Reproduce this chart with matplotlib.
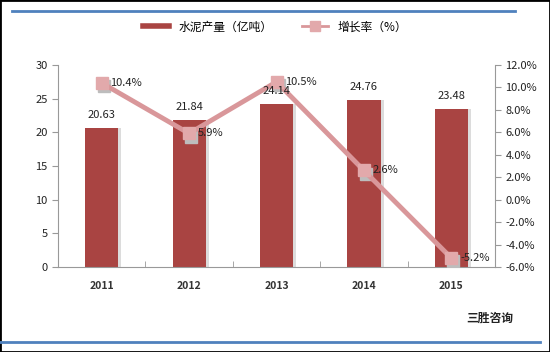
import matplotlib.pyplot as plt
from matplotlib.lines import Line2D
from matplotlib.patches import Rectangle
import numpy as np

plt.rcParams['font.family'] = ['Noto Sans CJK SC', 'DejaVu Sans']

years = ["2011", "2012", "2013", "2014", "2015"]
output = [20.63, 21.84, 24.14, 24.76, 23.48]
growth = [10.4, 5.9, 10.5, 2.6, -5.2]

bar_color = "#A94442"
line_color = "#D9979A"
marker_color = "#E2A9AB"

fig = plt.figure(figsize=(5.5, 3.52), dpi=100)
ax = fig.add_axes([0.1055, 0.2415, 0.7945, 0.5738])
x = np.arange(len(years))

# shadow then bars
ax.bar(x + 0.035, output, width=0.38, color="#dcdcdc", zorder=1)
ax.bar(x, output, width=0.38, color=bar_color, zorder=2)

ax.set_xlim(-0.5, len(years) - 0.5)
ax.set_ylim(0, 30)
ax.set_yticks(range(0, 31, 5))
ax.set_xticks(x)
ax.set_xticklabels(years, fontsize=7.5, fontweight="bold", color="#333333")
ax.set_xticks(np.arange(-0.5, len(years), 1), minor=True)
ax.tick_params(axis="x", which="major", length=0, pad=10)
ax.tick_params(axis="x", which="minor", length=4, color="#999999", direction="in")
ax.tick_params(axis="y", labelsize=8, length=4, color="#999999", colors="#222222")
for s in ["top", "right"]:
    ax.spines[s].set_visible(False)
ax.spines["left"].set_color("#999999")
ax.spines["bottom"].set_color("#999999")

ax2 = ax.twinx()
ax2.set_ylim(-6, 12)
ax2.set_yticks(np.arange(-6, 12.1, 2))
ax2.set_yticklabels([f"{t:.1f}%" for t in np.arange(-6, 12.1, 2)])
ax2.tick_params(axis="y", labelsize=8, length=4, color="#999999", colors="#222222")
for s in ["top", "left", "bottom"]:
    ax2.spines[s].set_visible(False)
ax2.spines["right"].set_color("#999999")

# marker shadows
ax2.plot(x + 0.025, [g - 0.3 for g in growth], ls="none", zorder=2,
         marker="s", markersize=9, markerfacecolor="#bdbdbd", markeredgecolor="#bdbdbd")
ax2.plot(x, growth, color=line_color, lw=3.5, zorder=3,
         marker="s", markersize=9, markerfacecolor=marker_color, markeredgecolor=marker_color)
for xi, g in zip(x, growth):
    ax2.text(xi + 0.1, g, f"{g:.1f}%", ha="left", va="center", fontsize=8, color="#222222", zorder=4)
for xi, v in zip(x, output):
    ax2.text(xi, v + 1.2, f"{v:.2f}", ha="center", va="bottom", fontsize=8, color="#222222",
             transform=ax.transData, zorder=5)

handles = [
    Line2D([], [], color=bar_color, lw=4),
    Line2D([], [], color=line_color, lw=2, marker="s", markersize=7,
           markerfacecolor=marker_color, markeredgecolor=marker_color),
]
fig.legend(handles, ["水泥产量（亿吨）", "增长率（%）"], loc="center", bbox_to_anchor=(0.5, 0.923),
           ncol=2, frameon=False, fontsize=8.5, handlelength=2.2, columnspacing=2.5)

fig.text(0.89, 0.097, "三胜咨询", ha="center", va="center", fontsize=8.5, fontweight="bold", color="#222222")

# decorative lines and border
fig.add_artist(Line2D([12 / 550, 515 / 550], [1 - 11 / 352] * 2, color="#4F81BD", lw=2))
fig.add_artist(Line2D([0, 540 / 550], [1 - 342 / 352] * 2, color="#4F81BD", lw=2))
fig.add_artist(Rectangle((0, 0), 1, 1, transform=fig.transFigure, fill=False, edgecolor="black", lw=2))

fig.savefig("out.png", dpi=100)
